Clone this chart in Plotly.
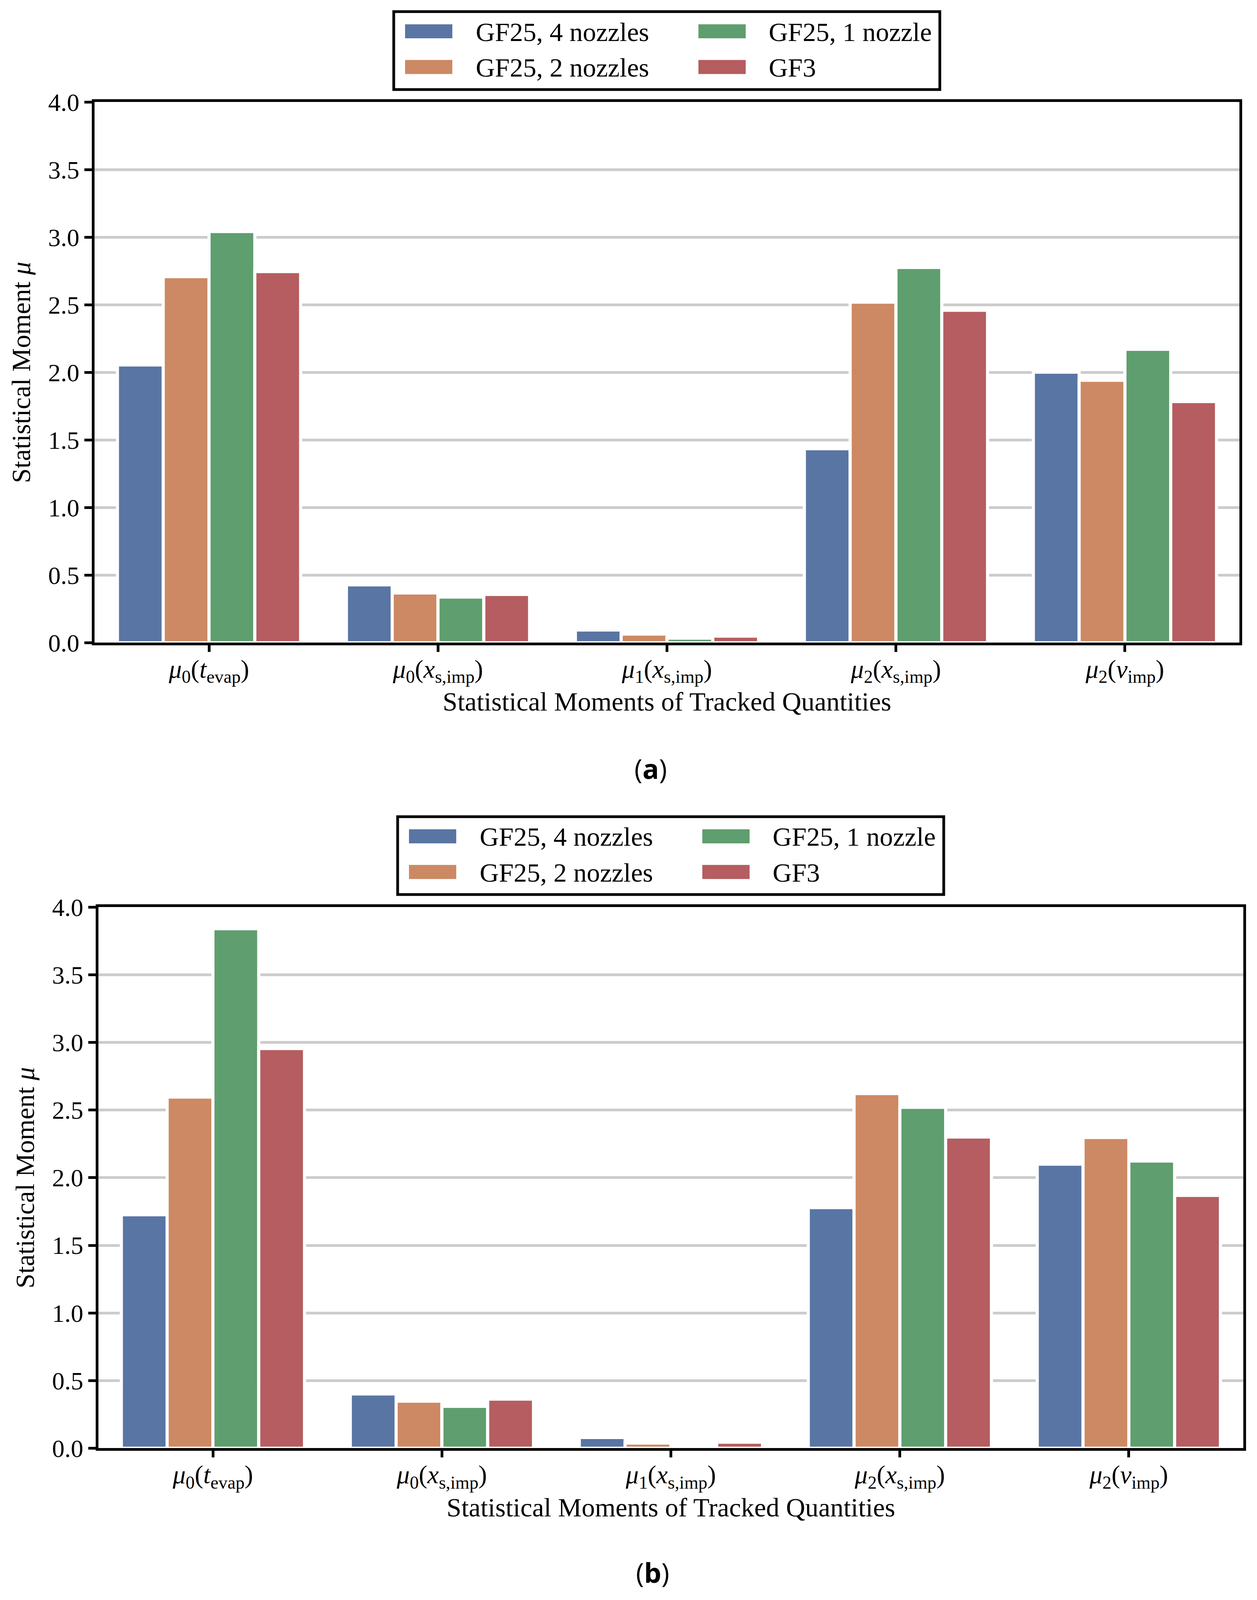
import plotly.graph_objects as go

categories = ["mu0_tevap", "mu0_xs", "mu1_xs", "mu2_xs", "mu2_v"]
tick_labels = [
    "<i>μ</i><sub>0</sub>(<i>t</i><sub>evap</sub>)",
    "<i>μ</i><sub>0</sub>(<i>x</i><sub>s,imp</sub>)",
    "<i>μ</i><sub>1</sub>(<i>x</i><sub>s,imp</sub>)",
    "<i>μ</i><sub>2</sub>(<i>x</i><sub>s,imp</sub>)",
    "<i>μ</i><sub>2</sub>(<i>v</i><sub>imp</sub>)",
]
series_names = ["GF25, 4 nozzles", "GF25, 2 nozzles", "GF25, 1 nozzle", "GF3"]
colors = ["#5975a4", "#cc8963", "#5f9e6e", "#b55d60"]

# panel (a)
a_4noz = [2.055, 0.428, 0.094, 1.435, 2.002]
a_2noz = [2.708, 0.368, 0.064, 2.520, 1.942]
a_1noz = [3.042, 0.338, 0.034, 2.776, 2.171]
a_gf3 = [2.746, 0.357, 0.049, 2.460, 1.784]

# panel (b)
b_4noz = [1.726, 0.401, 0.079, 1.779, 2.100]
b_2noz = [2.596, 0.348, 0.038, 2.622, 2.297]
b_1noz = [3.841, 0.310, 0.008, 2.520, 2.123]
b_gf3 = [2.955, 0.363, 0.045, 2.301, 1.869]

y_ticks = [0.0, 0.5, 1.0, 1.5, 2.0, 2.5, 3.0, 3.5, 4.0]
y_tick_text = ["0.0", "0.5", "1.0", "1.5", "2.0", "2.5", "3.0", "3.5", "4.0"]
panel_captions = ["a", "b"]

W, H_REF = 3218, 4217      # reference canvas (layout measured in these pixels)
H = 4096                   # visible page height in the browser window
FONT = "Liberation Serif"
FS_TICK = 64
FS_TEXT = 68

def px_x(p):
    return p / W

def px_y(p):
    return 1 - p / H_REF

fig = go.Figure()

panels = [
    dict(data=[a_4noz, a_2noz, a_1noz, a_gf3], xa="x", ya="y", dx=0, dy=0),
    dict(data=[b_4noz, b_2noz, b_1noz, b_gf3], xa="x2", ya="y2", dx=10, dy=2121.7),
]
for p in panels:
    for i, (name, vals) in enumerate(zip(series_names, p["data"])):
        fig.add_trace(go.Bar(
            x=categories, y=vals, name=name, showlegend=False,
            marker=dict(color=colors[i], line=dict(color="white", width=8)),
            xaxis=p["xa"], yaxis=p["ya"],
            hovertemplate=name + ": %{y:.3f}<extra></extra>",
        ))

axis_common_x = dict(
    tickmode="array", tickvals=categories, ticktext=tick_labels,
    range=[-0.5, 4.5], showline=True, linecolor="black", linewidth=7, mirror=True,
    ticks="outside", ticklen=17, tickwidth=7, tickcolor="black",
    ticklabelstandoff=-14,
    showgrid=False, zeroline=False,
    tickfont=dict(family=FONT, size=66, color="black"),
    title=dict(text="Statistical Moments of Tracked Quantities",
               font=dict(family=FONT, size=FS_TEXT, color="black"), standoff=2),
    automargin=False,
)
axis_common_y = dict(
    range=[0, 4], tickmode="array", tickvals=y_ticks, ticktext=y_tick_text,
    showline=True, linecolor="black", linewidth=7, mirror=True,
    ticks="outside", ticklen=19, tickwidth=7, tickcolor="black",
    showgrid=True, gridcolor="#cccccc", gridwidth=7, zeroline=False,
    tickfont=dict(family=FONT, size=FS_TICK, color="black"),
    title=dict(text="Statistical Moment <i>μ</i>",
               font=dict(family=FONT, size=FS_TEXT, color="black"), standoff=26),
    automargin=False,
)

fig.update_layout(
    xaxis=dict(domain=[px_x(242), px_x(3173)], anchor="y", **axis_common_x),
    yaxis=dict(domain=[px_y(1694), px_y(269)], anchor="x", **axis_common_y),
    xaxis2=dict(domain=[px_x(252), px_x(3183)], anchor="y2", **axis_common_x),
    yaxis2=dict(domain=[px_y(3817), px_y(2391)], anchor="x2", **axis_common_y),
)

# legends (two columns, column-major like the reference), drawn per panel
swatch_cols = [(1037, 1158), (1788, 1909)]
text_x = [1216, 1966]
row_y = [(64, 101), (158, 195)]
text_mid = [84, 178]
legend_slots = [(0, 0), (0, 1), (1, 0), (1, 1)]  # (col, row) for each series

for p in panels:
    dx, dy = p["dx"], p["dy"]
    fig.add_shape(type="rect", xref="paper", yref="paper",
                  x0=px_x(1008 + dx), x1=px_x(2406 + dx),
                  y0=px_y(236 + dy), y1=px_y(30.7 + dy),
                  line=dict(color="black", width=7), fillcolor="white", layer="above")
    for i, name in enumerate(series_names):
        c, r = legend_slots[i]
        sx0, sx1 = swatch_cols[c]
        sy0, sy1 = row_y[r]
        fig.add_shape(type="rect", xref="paper", yref="paper",
                      x0=px_x(sx0 + dx), x1=px_x(sx1 + dx),
                      y0=px_y(sy1 + dy), y1=px_y(sy0 + dy),
                      line=dict(width=0), fillcolor=colors[i], layer="above")
        fig.add_annotation(text=name, xref="paper", yref="paper",
                           x=px_x(text_x[c] + dx), y=px_y(text_mid[r] + dy),
                           xanchor="left", yanchor="middle", showarrow=False,
                           font=dict(family=FONT, size=FS_TEXT, color="black"))

# panel captions
for cap, yc, dx in [(panel_captions[0], 2025, 0), (panel_captions[1], 4144, 5)]:
    fig.add_annotation(text="(<b>" + cap + "</b>)", xref="paper", yref="paper",
                       x=px_x(1666 + dx), y=px_y(yc),
                       showarrow=False, xanchor="center", yanchor="middle",
                       font=dict(family="Open Sans", size=70, color="black"))

fig.update_layout(
    width=W, height=H, margin=dict(l=0, r=0, t=0, b=0, autoexpand=False),
    paper_bgcolor="white", plot_bgcolor="white",
    barmode="group", bargap=0.2, bargroupgap=0,
    font=dict(family=FONT, size=FS_TICK, color="black"),
    showlegend=False,
)

fig.write_html(
    "out.html",
    config={"displayModeBar": False},
    post_script="document.body.style.margin='0';document.body.style.overflow='hidden';",
)
